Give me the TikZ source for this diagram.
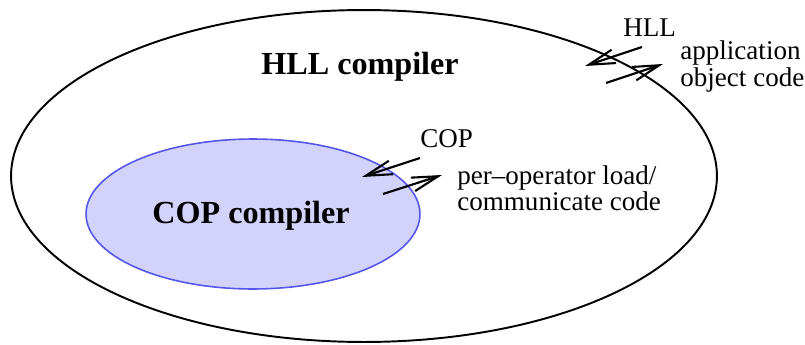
\documentclass[tikz,border=0pt]{standalone}
\usepackage{fontspec}
\setmainfont{Liberation Serif}
\usetikzlibrary{shapes.geometric, arrows.meta}
\definecolor{copfill}{RGB}{210,210,250}
\definecolor{copline}{RGB}{85,85,235}
\tikzstyle{el} = [ellipse, draw, line width=1.1pt, inner sep=0pt]
\tikzstyle{lbl} = [inner sep=0pt, anchor=base west, font=\fontsize{15.4}{16}\selectfont]
\tikzstyle{bl} = [inner sep=0pt, anchor=base, font=\fontsize{18.3}{19}\selectfont\bfseries]
\tikzstyle{ar} = [-{Straight Barb[length=15pt,width=8pt]}, line width=1.2pt]
\begin{document}
\begin{tikzpicture}[x=0.02cm, y=-0.02cm]
	\useasboundingbox (0,0) rectangle (805,345);
	\node [el, minimum width=14.12cm, minimum height=6.64cm] (hll) at (364,176) {};
	\node [el, draw=copline, fill=copfill, line width=0.9pt, minimum width=6.68cm, minimum height=3cm] (cop) at (253,214) {};
	\node [bl] (hllc) at (360,74) {HLL compiler};
	\node [bl] (copc) at (251,223) {COP compiler};
	\node [lbl] (hllin) at (623,36) {HLL};
	\node [lbl] (app) at (680,59) {application};
	\node [lbl] (obj) at (680,86) {object code};
	\node [lbl] (copin) at (420,147) {COP};
	\node [lbl] (pol) at (457,184) {per--operator load/};
	\node [lbl] (cc) at (457,210) {communicate code};
	% arrow end points
	\coordinate (h1) at (642,47);
	\coordinate (h2) at (585,66);
	\coordinate (h3) at (606,83);
	\coordinate (h4) at (663,64);
	\coordinate (c1) at (420,158);
	\coordinate (c2) at (362,177);
	\coordinate (c3) at (383,194);
	\coordinate (c4) at (442,175);
	\draw [ar] (h1) -- (h2);
	\draw [ar] (h3) -- (h4);
	\draw [ar] (c1) -- (c2);
	\draw [ar] (c3) -- (c4);
\end{tikzpicture}
\end{document}
